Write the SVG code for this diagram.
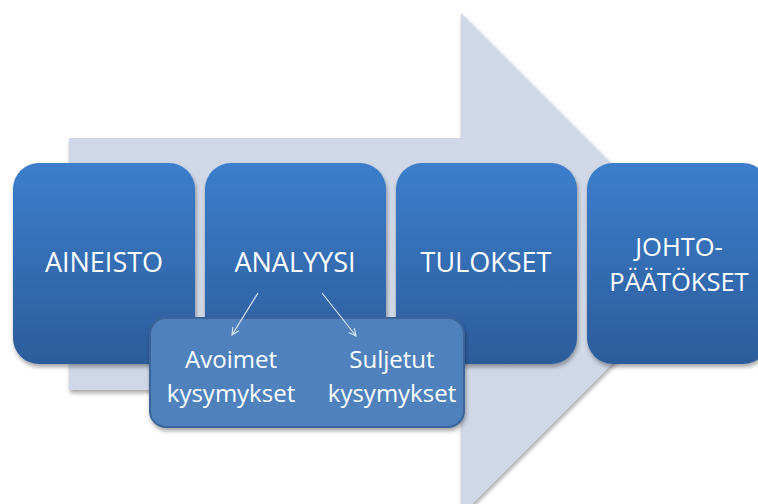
<svg xmlns="http://www.w3.org/2000/svg" width="758" height="504" viewBox="0 0 758 504">
  <defs>
    <linearGradient id="boxGrad" x1="0" y1="0" x2="0" y2="1">
      <stop offset="0" stop-color="#3c7ecc"/>
      <stop offset="1" stop-color="#2c5c9b"/>
    </linearGradient>
    <filter id="shadow" x="-10%" y="-10%" width="120%" height="125%">
      <feGaussianBlur in="SourceAlpha" stdDeviation="2"/>
      <feOffset dx="1" dy="3" result="b"/>
      <feComponentTransfer><feFuncA type="linear" slope="0.35"/></feComponentTransfer>
      <feMerge><feMergeNode/><feMergeNode in="SourceGraphic"/></feMerge>
    </filter>
    <marker id="openArrow" viewBox="0 0 10 10" refX="9" refY="5" markerWidth="9" markerHeight="9" orient="auto" markerUnits="userSpaceOnUse">
      <path d="M1,1 L9,5 L1,9" fill="none" stroke="#dce6f2" stroke-width="1.2"/>
    </marker>
  </defs>
  <style>
    .box { fill: url(#boxGrad); filter: url(#shadow); }
    .lbl { font-family: "Open Sans", "Liberation Sans", sans-serif; font-size: 27px; fill: #ffffff; text-anchor: middle; }
    .lbl2 { font-family: "Open Sans", "Liberation Sans", sans-serif; font-size: 25.5px; fill: #ffffff; text-anchor: middle; }
    .sub { font-family: "Open Sans", "Liberation Sans", sans-serif; font-size: 24px; fill: #ffffff; text-anchor: middle; }
    .conn { stroke: #dce6f2; stroke-width: 1.2; fill: none; marker-end: url(#openArrow); }
  </style>
  <rect width="758" height="504" fill="#ffffff"/>
  <g id="bigArrow" filter="url(#shadow)">
    <path d="M69,138 L461,138 L461,13 L712,264 L461,515 L461,390 L69,390 Z" fill="#d0d8e7"/>
  </g>
  <g id="aineisto">
    <rect class="box" x="13" y="163" width="182" height="201" rx="26"/>
    <text class="lbl" x="104" y="272">AINEISTO</text>
  </g>
  <g id="analyysi">
    <rect class="box" x="205" y="163" width="181" height="201" rx="26"/>
    <text class="lbl" x="295" y="272">ANALYYSI</text>
  </g>
  <g id="tulokset">
    <rect class="box" x="396" y="163" width="181" height="201" rx="26"/>
    <text class="lbl" x="486" y="272">TULOKSET</text>
  </g>
  <g id="johtopaatokset">
    <rect class="box" x="587" y="163" width="182" height="201" rx="26"/>
    <text class="lbl2" x="679" y="256">JOHTO-</text>
    <text class="lbl2" x="679" y="291">PÄÄTÖKSET</text>
  </g>
  <g id="kysymykset">
    <rect x="150" y="318" width="314" height="109" rx="16" fill="#4f81bd" stroke="#3a659a" stroke-width="2" filter="url(#shadow)"/>
    <text class="sub"><tspan x="231" y="368">Avoimet</tspan><tspan x="231" y="402">kysymykset</tspan></text>
    <text class="sub"><tspan x="392" y="368">Suljetut</tspan><tspan x="392" y="402">kysymykset</tspan></text>
  </g>
  <g id="connectors">
    <line class="conn" x1="258" y1="293" x2="232" y2="335"/>
    <line class="conn" x1="322" y1="293" x2="356" y2="336"/>
  </g>
</svg>
